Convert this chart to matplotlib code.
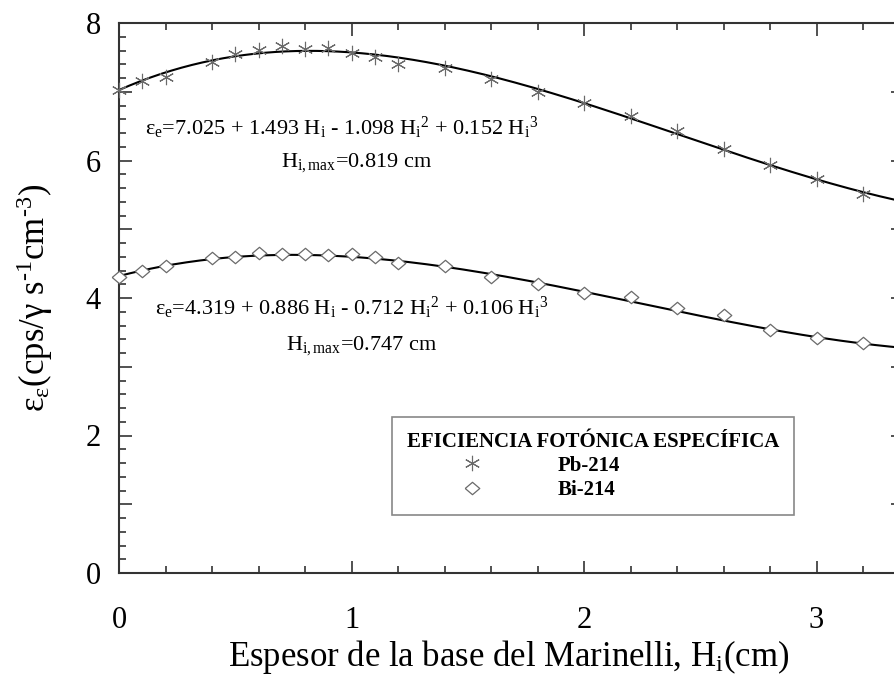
import numpy as np
import matplotlib
matplotlib.use("Agg")
import matplotlib.pyplot as plt
from matplotlib.ticker import MultipleLocator

plt.rcParams['font.family'] = ['Liberation Serif', 'DejaVu Serif']
plt.rcParams['mathtext.fontset'] = 'custom'
plt.rcParams['mathtext.rm'] = 'Liberation Serif'
plt.rcParams['mathtext.it'] = 'Liberation Serif:italic'
plt.rcParams['mathtext.bf'] = 'Liberation Serif:bold'

# ---- data ----
thickness = [0, 0.1, 0.2, 0.4, 0.5, 0.6, 0.7, 0.8, 0.9, 1.0, 1.1, 1.2,
             1.4, 1.6, 1.8, 2.0, 2.2, 2.4, 2.6, 2.8, 3.0, 3.2]
pb214 = [7.03, 7.15, 7.21, 7.44, 7.55, 7.61, 7.66, 7.62, 7.63, 7.56, 7.50, 7.40,
         7.35, 7.18, 6.99, 6.84, 6.65, 6.43, 6.17, 5.94, 5.73, 5.51]
bi214 = [4.31, 4.40, 4.47, 4.58, 4.60, 4.65, 4.64, 4.64, 4.62, 4.64, 4.59, 4.51,
         4.46, 4.30, 4.21, 4.07, 4.02, 3.85, 3.75, 3.53, 3.42, 3.35]
# fitted cubic coefficients (c0, c1, c2, c3) shown on the chart
pb_fit = [7.025, 1.493, -1.098, 0.152]
bi_fit = [4.319, 0.886, -0.712, 0.106]
x_ticks = [0, 1, 2, 3]
y_ticks = [0, 2, 4, 6, 8]

fig = plt.figure(figsize=(8.95, 6.83), dpi=100)
ax = fig.add_axes([119/895, 110/683, 779/895, 550/683])

xfit = np.linspace(0, 3.35, 300)
ax.plot(xfit, np.polyval(pb_fit[::-1], xfit), color='black', lw=1.5, zorder=2)
ax.plot(xfit, np.polyval(bi_fit[::-1], xfit), color='black', lw=1.5, zorder=2)

diamond = [(-1, 0), (0, 0.85), (1, 0), (0, -0.85), (-1, 0)]
ax.plot(thickness, pb214, linestyle='none', marker=(6, 2, 0), ms=11,
        mew=0.8, color='#6a6a6a', label='Pb-214', zorder=3, clip_on=False)
ax.plot(thickness, bi214, linestyle='none', marker=diamond, ms=10.5,
        mew=0.9, mfc='white', mec='#6a6a6a', label='Bi-214', zorder=3, clip_on=False)

ax.set_xlim(0, 3.35)
ax.set_ylim(0, 8)
ax.set_xticks(x_ticks)
ax.xaxis.set_minor_locator(MultipleLocator(0.2))
ax.yaxis.set_minor_locator(MultipleLocator(0.2))
ax.yaxis.set_major_locator(MultipleLocator(1))
ax.set_yticks(range(0, 9))
ax.set_yticklabels([str(v) if v in y_ticks else '' for v in range(0, 9)])

ax.tick_params(which='both', direction='in', top=True, right=False,
               labelsize=22, color='#333333', width=1.2)
ax.tick_params(which='major', length=9)
ax.tick_params(which='minor', length=5)
ax.tick_params(axis='x', pad=24)
ax.tick_params(axis='y', pad=13)
for s in ax.spines.values():
    s.set_linewidth(1.5)
    s.set_color('#333333')

sec = ax.secondary_yaxis('right')
sec.set_yticks([1, 2, 3, 4, 5, 6, 7])
sec.tick_params(direction='in', length=5, labelright=False, color='#333333', width=1.2)

ax.set_xlabel('Espesor de la base del Marinelli, H$_\\mathrm{i}$(cm)', fontsize=25, labelpad=2)
ax.set_ylabel('ε$_\\mathrm{ε}$(cps/γ s$^{\\text{-1}}$cm$^{\\text{-3}}$)', fontsize=25, labelpad=22)

eq_size = 16
ax.text(0.11, 6.37,
        'ε$_\\mathrm{e}$=7.025 + 1.493 H$_\\mathrm{i}$ - 1.098 H$_\\mathrm{i}{}^\\mathrm{2}$ + 0.152 H$_\\mathrm{i}{}^\\mathrm{3}$',
        fontsize=eq_size, ha='left', va='baseline')
ax.text(1.02, 5.91, 'H$_\\mathrm{i,max}$=0.819 cm', fontsize=eq_size, ha='center', va='baseline')
ax.text(0.155, 3.75,
        'ε$_\\mathrm{e}$=4.319 + 0.886 H$_\\mathrm{i}$ - 0.712 H$_\\mathrm{i}{}^\\mathrm{2}$ + 0.106 H$_\\mathrm{i}{}^\\mathrm{3}$',
        fontsize=eq_size, ha='left', va='baseline')
ax.text(1.045, 3.25, 'H$_\\mathrm{i,max}$=0.747 cm', fontsize=eq_size, ha='center', va='baseline')

leg = ax.legend(loc='upper left', bbox_to_anchor=((392-119)/779, (573-417)/550),
                borderaxespad=0, title='EFICIENCIA FOTÓNICA ESPECÍFICA',
                title_fontproperties={'weight': 'bold', 'size': 15},
                prop={'weight': 'bold', 'size': 15}, handlelength=6.3,
                handletextpad=0.95, labelspacing=0.2, borderpad=0.7,
                fancybox=False, framealpha=1, edgecolor='#888888',
                alignment='left')
leg.get_frame().set_linewidth(1.2)
leg.set_zorder(5)

fig.savefig('out.png', dpi=100)
